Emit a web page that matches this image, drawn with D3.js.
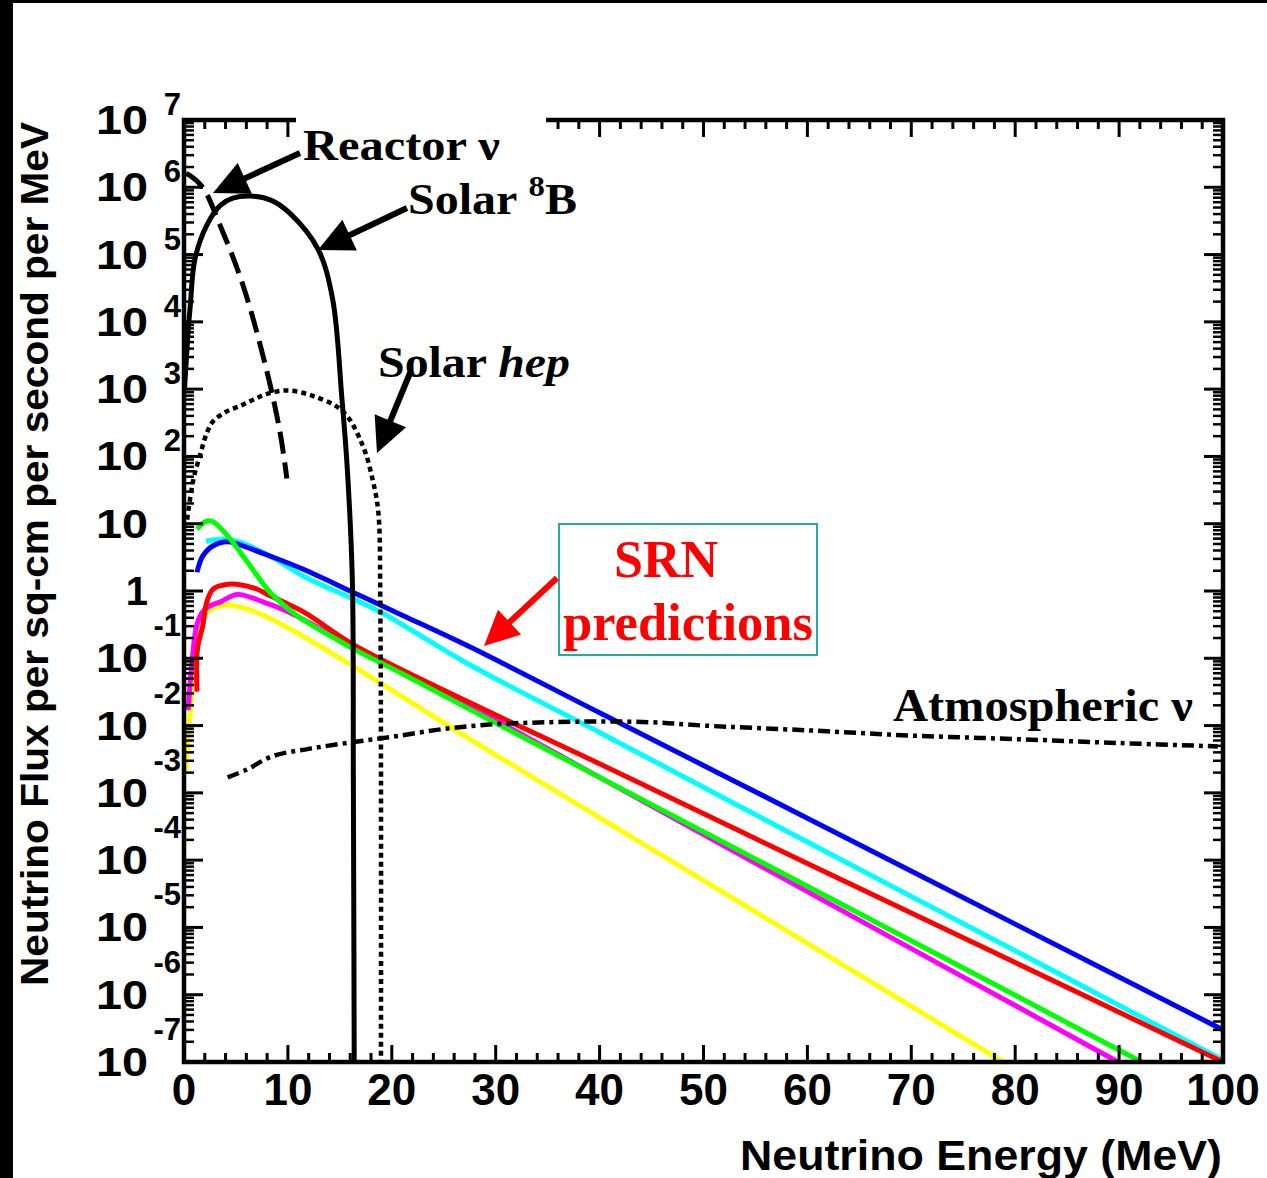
<!DOCTYPE html>
<html><head><meta charset="utf-8">
<script src="https://cdn.jsdelivr.net/npm/d3@7"></script>
<style>body{margin:0;background:#fff}svg{display:block}</style>
</head><body><svg id="c" width="1267" height="1178"></svg>
<script>
// ---------------- data ----------------
const xTickValues = [0,10,20,30,40,50,60,70,80,90,100];
const xTickLabels = ["0","10","20","30","40","50","60","70","80","90","100"];
const yDecades    = [-7,-6,-5,-4,-3,-2,-1,0,1,2,3,4,5,6,7];
const yTickBase   = ["10","10","10","10","10","10","10","1","10","10","10","10","10","10","10"];
const yTickExp    = ["-7","-6","-5","-4","-3","-2","-1","","","2","3","4","5","6","7"];

// Solar 8B (solid)
const e8B    = [0.05, 0.4, 0.6, 1.06, 2.2, 3.5, 4.7, 6.4, 8.3, 10.2, 12.9, 14.3, 15.2, 15.7, 16.2, 16.3, 16.4];
const flux8B = [1.0e3, 7.2e3, 1.7e4, 8.7e4, 2.75e5, 5.4e5, 6.9e5, 7.4e5, 6.5e5, 4.1e5, 1.2e5, 2.2e4, 7.2e2, 72, 1.5, 1.6e-3, 1e-8];
// Reactor (dashed)
const eReactor    = [0.2, 0.58, 1.83, 3.46, 5.68, 7.99, 9.24, 9.9];
const fluxReactor = [1.6e6, 1.5e6, 9.8e5, 2.75e5, 3.5e4, 1.8e3, 2.3e2, 47];
// Solar hep (dotted)
const eHep    = [0.3, 0.9, 1.6, 2.2, 2.79, 4.0, 5.39, 6.7, 7.99, 9.91, 12.4, 15.3, 17.2, 18.2, 18.7, 18.9, 18.95];
const fluxHep = [11.5, 45, 112, 224, 330, 457, 562, 700, 851, 955, 794, 468, 145, 42, 15, 0.49, 1e-8];
// Atmospheric (dash-dot)
const eAtm    = [4.2, 6, 8.5, 12, 16, 20, 25, 30, 35, 40, 45, 50, 60, 70, 80, 90, 99.5];
const fluxAtm = [1.7e-3, 2.2e-3, 3.5e-3, 4.5e-3, 5.6e-3, 6.8e-3, 8.9e-3, 1.05e-2, 1.12e-2, 1.15e-2, 1.12e-2, 1.0e-2, 8.5e-3, 7.1e-3, 6.3e-3, 5.5e-3, 4.9e-3];

// SRN predictions
const srnColors = ["#ffff00","#ff00ff","#00ffff","#ff0000","#0000ff","#00ff00"];
const eYellow = [0.2, 0.6, 1.25, 2.2, 3.5, 4.4, 6.7, 9.9, 16.3, 27.5, 40, 60, 80, 100];
const fYellow = [2.2e-3, 1.6e-2, 0.15, 0.49, 0.60, 0.62, 0.50, 0.29, 7.6e-2, 6.3e-3, 4.3e-4, 5.8e-6, 7.8e-8, 1.0e-9];
const eMagenta = [0.4, 0.8, 1.25, 1.8, 2.5, 3.5, 5.1, 7.6, 9.9, 16.3, 27.5, 40, 60, 80, 100];
const fMagenta = [1.7e-2, 9.8e-2, 0.32, 0.49, 0.60, 0.69, 0.89, 0.69, 0.50, 0.15, 1.95e-2, 1.7e-3, 3.4e-5, 6.9e-7, 1.4e-8];
const eCyan = [2.1, 3.5, 5.1, 8.3, 11.5, 16.3, 19.2, 27.5, 40, 60, 80, 100];
const fCyan = [5.5, 5.9, 5.5, 3.3, 1.66, 0.76, 0.46, 8.0e-2, 7.9e-3, 1.86e-4, 4.5e-6, 1.07e-7];
const eRed = [1.25, 1.3, 1.8, 2.2, 2.8, 4.2, 5.1, 7.0, 8.3, 11.5, 16.3, 27.5, 40, 60, 80, 100];
const fRed = [3.2e-2, 0.14, 0.30, 0.69, 1.07, 1.26, 1.26, 1.07, 0.85, 0.49, 0.16, 2.2e-2, 2.7e-3, 8.9e-5, 3.0e-6, 1.0e-7];
const eBlue = [1.25, 1.8, 2.8, 4.2, 5.1, 8.3, 11.5, 16.3, 21.1, 27.5, 40, 60, 80, 100];
const fBlue = [1.9, 3.3, 4.7, 5.4, 5.0, 3.3, 2.1, 0.95, 0.43, 0.148, 1.55e-2, 4.2e-4, 1.12e-5, 3.0e-7];
const eGreen = [1.25, 2.2, 2.8, 4.2, 6.1, 8.3, 10.9, 14.7, 16.3, 21.1, 27.5, 40, 60, 80, 100];
const fGreen = [8.3, 11.0, 10.7, 6.6, 2.7, 0.95, 0.43, 0.19, 0.138, 5.8e-2, 1.74e-2, 1.7e-3, 4.1e-5, 9.8e-7, 2.3e-8];
const srnE = [eYellow, eMagenta, eCyan, eRed, eBlue, eGreen];
const srnF = [fYellow, fMagenta, fCyan, fRed, fBlue, fGreen];

// ---------------- drawing ----------------
const svg = d3.select("#c");
const W = 1267, H = 1178;
const L = 184, R = 1223, T = 120, B = 1062;
const x = d3.scaleLinear().domain([0,100]).range([L,R]);
const y = d3.scaleLog().domain([1e-7,1e7]).range([B,T]);

svg.append("rect").attr("width",W).attr("height",H).attr("fill","#fff");
svg.append("rect").attr("x",0).attr("y",0).attr("width",13).attr("height",H).attr("fill","#000");
svg.append("rect").attr("x",0).attr("y",0).attr("width",W).attr("height",3).attr("fill","#000");

svg.append("clipPath").attr("id","plot").append("rect")
  .attr("x",L).attr("y",T).attr("width",R-L).attr("height",B-T);

const line = d3.line().x(d=>x(d[0])).y(d=>y(d[1])).curve(d3.curveCatmullRom.alpha(0.5));
const zip = (a,b)=>a.map((v,i)=>[v,b[i]]);

const g = svg.append("g").attr("clip-path","url(#plot)");
srnE.forEach((es,i)=>{
  g.append("path").attr("d",line(zip(es,srnF[i]))).attr("fill","none")
   .attr("stroke",srnColors[i]).attr("stroke-width",5);
});
g.append("path").attr("d",line(zip(eAtm,fluxAtm))).attr("fill","none")
  .attr("stroke","#000").attr("stroke-width",4.5).attr("stroke-dasharray","12,5,4,5");
g.append("path").attr("d",line(zip(eHep,fluxHep))).attr("fill","none")
  .attr("stroke","#000").attr("stroke-width",4.5).attr("stroke-dasharray","5,4");
g.append("path").attr("d",line(zip(eReactor,fluxReactor))).attr("fill","none")
  .attr("stroke","#000").attr("stroke-width",5).attr("stroke-dasharray","22,9");
g.append("path").attr("d",line(zip(e8B,flux8B))).attr("fill","none")
  .attr("stroke","#000").attr("stroke-width",5);

// ticks
const axG = svg.append("g").attr("stroke","#000").attr("stroke-width",3);
d3.range(0,101,2).forEach(v=>{
  const len = v%10===0?17:9;
  axG.append("line").attr("x1",x(v)).attr("x2",x(v)).attr("y1",B).attr("y2",B-len);
  axG.append("line").attr("x1",x(v)).attr("x2",x(v)).attr("y1",T).attr("y2",T+len);
});
yDecades.forEach(k=>{
  const v = Math.pow(10,k);
  axG.append("line").attr("x1",L).attr("x2",L+19).attr("y1",y(v)).attr("y2",y(v));
  axG.append("line").attr("x1",R).attr("x2",R-19).attr("y1",y(v)).attr("y2",y(v));
  if (k<7) for (let m=2;m<=9;m++){
    const yy = y(m*v);
    axG.append("line").attr("x1",L).attr("x2",L+10).attr("y1",yy).attr("y2",yy).attr("stroke-width",2.5);
    axG.append("line").attr("x1",R).attr("x2",R-10).attr("y1",yy).attr("y2",yy).attr("stroke-width",2.5);
  }
});
svg.append("rect").attr("x",L).attr("y",T).attr("width",R-L).attr("height",B-T)
  .attr("fill","none").attr("stroke","#000").attr("stroke-width",4.5);

// white background behind "Reactor" label (hides part of top frame)
svg.append("rect").attr("x",296).attr("y",105).attr("width",250).attr("height",32).attr("fill","#fff");

// tick labels
const lab = svg.append("g").attr("font-family","'Liberation Sans',Arial,sans-serif").attr("font-weight","bold").attr("fill","#000");
xTickValues.forEach((v,i)=>{
  lab.append("text").attr("x",x(v)).attr("y",1105).attr("text-anchor","middle")
    .attr("font-size",44).text(xTickLabels[i]);
});
yDecades.forEach((k,i)=>{
  const yy = y(Math.pow(10,k));
  const t = lab.append("text").attr("x",148).attr("y",yy+14).attr("text-anchor","end")
    .attr("font-size",40).text(yTickBase[i]);
  if (yTickBase[i]==="10") t.attr("textLength",52).attr("lengthAdjust","spacingAndGlyphs");
  if (yTickExp[i]) lab.append("text").attr("x",181).attr("y",k<0 ? yy-22 : yy-5).attr("text-anchor","end")
    .attr("font-size",31).text(yTickExp[i]);
});
// axis titles
lab.append("text").attr("x",1222).attr("y",1170).attr("text-anchor","end")
  .attr("font-size",42).attr("textLength",482).attr("lengthAdjust","spacingAndGlyphs")
  .text("Neutrino Energy (MeV)");
lab.append("text").attr("transform","translate(48,986) rotate(-90)")
  .attr("font-size",39).attr("textLength",864).attr("lengthAdjust","spacingAndGlyphs")
  .text("Neutrino Flux per sq-cm per second per MeV");

// SRN box
svg.append("rect").attr("x",559).attr("y",524).attr("width",258).attr("height",131)
  .attr("fill","#fff").attr("stroke","#2aa8a8").attr("stroke-width",2);

// annotations
const ann = svg.append("g").attr("font-family","'Liberation Serif','Times New Roman',serif").attr("font-weight","bold");
ann.append("text").attr("x",303).attr("y",160).attr("font-size",44)
  .attr("textLength",197).attr("lengthAdjust","spacingAndGlyphs").text("Reactor ν");
const t8 = ann.append("text").attr("x",408).attr("y",214).attr("font-size",44)
  .attr("textLength",169).attr("lengthAdjust","spacingAndGlyphs");
t8.append("tspan").text("Solar ");
t8.append("tspan").attr("font-size",30).attr("dy",-18).text("8");
t8.append("tspan").attr("dy",18).text("B");
const th = ann.append("text").attr("x",378).attr("y",377).attr("font-size",44)
  .attr("textLength",192).attr("lengthAdjust","spacingAndGlyphs");
th.append("tspan").text("Solar ");
th.append("tspan").attr("font-style","italic").text("hep");
ann.append("text").attr("x",893).attr("y",721).attr("font-size",46)
  .attr("textLength",300).attr("lengthAdjust","spacingAndGlyphs").text("Atmospheric ν");
ann.append("text").attr("x",666).attr("y",577).attr("font-size",52).attr("fill","#ff0000")
  .attr("text-anchor","middle").text("SRN");
ann.append("text").attr("x",688).attr("y",640).attr("font-size",52).attr("fill","#ff0000")
  .attr("text-anchor","middle").attr("textLength",250).attr("lengthAdjust","spacingAndGlyphs").text("predictions");

// arrows
function arrow(x1,y1,x2,y2,color){
  const dx=x2-x1, dy=y2-y1, len=Math.hypot(dx,dy), ux=dx/len, uy=dy/len;
  const hl=35, hw=17;
  const bx=x2-ux*hl, by=y2-uy*hl;
  svg.append("line").attr("x1",x1).attr("y1",y1).attr("x2",bx+ux*2).attr("y2",by+uy*2)
    .attr("stroke",color).attr("stroke-width",6);
  svg.append("path").attr("d",`M${x2},${y2}L${bx-uy*hw},${by+ux*hw}L${bx+uy*hw},${by-ux*hw}Z`).attr("fill",color);
}
arrow(300,153,213,193,"#000");
arrow(407,208,318,250,"#000");
arrow(410,373,377,453,"#000");
arrow(557,578,484,646,"#ff0000");
</script></body></html>
